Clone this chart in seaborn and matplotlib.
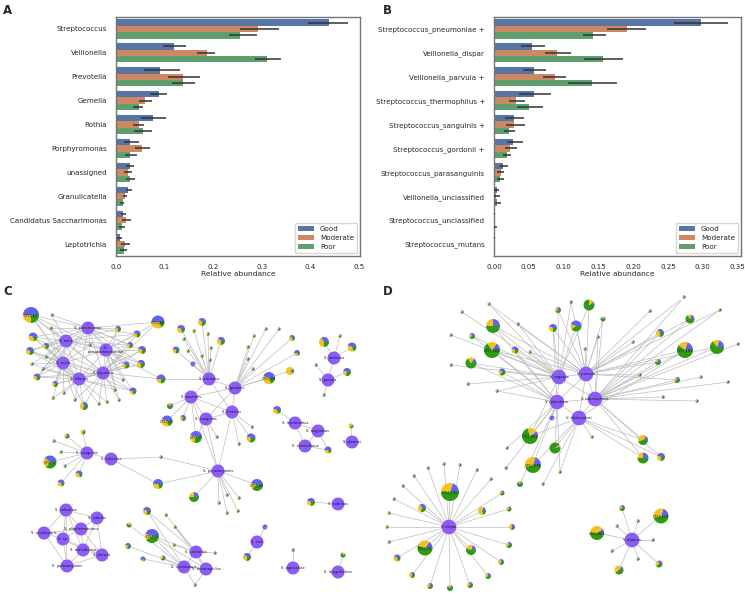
import numpy as np
import pandas as pd
import matplotlib
matplotlib.use("Agg")
import matplotlib.pyplot as plt
import seaborn as sns
from matplotlib.collections import LineCollection

# ---------------- bar chart data ----------------
GROUPS = ["Good", "Moderate", "Poor"]

A_TAXA = ["Streptococcus", "Veillonella", "Prevotella", "Gemella", "Rothia",
          "Porphyromonas", "unassigned", "Granulicatella",
          "Candidatus Saccharimonas", "Leptotrichia"]
A_GOOD = [0.438, 0.120, 0.091, 0.088, 0.076, 0.029, 0.029, 0.025, 0.014, 0.008]
A_GOOD_LO = [0.396, 0.096, 0.058, 0.070, 0.051, 0.017, 0.021, 0.021, 0.010, 0.003]
A_GOOD_HI = [0.477, 0.144, 0.131, 0.104, 0.103, 0.047, 0.038, 0.033, 0.021, 0.012]
A_MOD = [0.293, 0.187, 0.137, 0.060, 0.047, 0.053, 0.024, 0.018, 0.021, 0.019]
A_MOD_LO = [0.255, 0.166, 0.106, 0.047, 0.036, 0.040, 0.016, 0.014, 0.012, 0.011]
A_MOD_HI = [0.336, 0.204, 0.173, 0.074, 0.057, 0.069, 0.032, 0.023, 0.031, 0.029]
A_POOR = [0.255, 0.310, 0.137, 0.047, 0.055, 0.029, 0.029, 0.014, 0.012, 0.016]
A_POOR_LO = [0.232, 0.285, 0.115, 0.036, 0.038, 0.019, 0.021, 0.009, 0.007, 0.009]
A_POOR_HI = [0.290, 0.339, 0.163, 0.055, 0.074, 0.043, 0.039, 0.017, 0.018, 0.023]

B_TAXA = ["Streptococcus_pneumoniae +", "Veillonella_dispar", "Veillonella_parvula +",
          "Streptococcus_thermophilus +", "Streptococcus_sanguinis +",
          "Streptococcus_gordonii +", "Streptococcus_parasanguinis",
          "Veillonella_unclassified", "Streptococcus_unclassified",
          "Streptococcus_mutans"]
B_GOOD = [0.298, 0.055, 0.057, 0.057, 0.029, 0.028, 0.013, 0.004, 0.0004, 0.0008]
B_GOOD_LO = [0.258, 0.039, 0.041, 0.036, 0.016, 0.018, 0.008, 0.0005, 0.0, 0.0]
B_GOOD_HI = [0.336, 0.073, 0.075, 0.082, 0.043, 0.041, 0.020, 0.0077, 0.001, 0.002]
B_MOD = [0.191, 0.091, 0.087, 0.031, 0.029, 0.023, 0.0096, 0.0024, 0.0002, 0.0002]
B_MOD_LO = [0.163, 0.074, 0.071, 0.022, 0.017, 0.016, 0.004, 0.0, 0.0, 0.0]
B_MOD_HI = [0.218, 0.110, 0.104, 0.044, 0.045, 0.033, 0.015, 0.008, 0.0005, 0.0005]
B_POOR = [0.143, 0.157, 0.141, 0.050, 0.022, 0.018, 0.009, 0.005, 0.001, 0.0002]
B_POOR_LO = [0.128, 0.130, 0.107, 0.033, 0.015, 0.013, 0.004, 0.0014, 0.0, 0.0]
B_POOR_HI = [0.161, 0.186, 0.177, 0.070, 0.030, 0.024, 0.014, 0.0105, 0.004, 0.0005]

# ---------------- network data (layout coordinates) ----------------
PIE_COLORS = ["#6262f2", "#f4c21c", "#2f9b12"]
HUB_COLOR = "#8b5cf6"
DOT_FRAC = (0.3, 0.3, 0.4)

C_HUB_NAMES = ["S. pneumoniae", "S. mitis", "S.\npseudopneumoniae", "S. oralis",
               "S. tigurinus", "S. infantis",
               "S. cristatus", "S. gordonii", "S. australis", "S. sinensis",
               "S. sanguinis", "S. parasanguinis",
               "S. lactarius", "S. peroris", "S. intermedius", "S. anginosus",
               "S. constellatus", "S. downei", "S. sobrinus", "S. suis",
               "S. agalactiae", "S. dysgalactiae",
               "S. sanguinis", "S. cristatus",
               "S. salivarius", "S. infantis", "S. vestibularis", "S. oligofermentans",
               "S. sp.", "S. massiliensis", "S. peroris", "S. parasanguinis",
               "S. salivarius", "S. vestibularis", "S. thermophilus"]
C_HUB_X = [88, 66, 106, 63, 103, 79,
           209, 235, 191, 232, 206, 218,
           334, 328, 295, 318, 305, 352, 338, 257, 293, 338,
           87, 111,
           66, 97, 44, 81, 63, 83, 102, 67,
           196, 184, 206]
C_HUB_Y = [328, 341, 350, 363, 373, 379,
           379, 388, 397, 412, 419, 471,
           358, 380, 423, 431, 446, 442, 504, 542, 568, 572,
           453, 459,
           510, 518, 533, 529, 539, 550, 555, 566,
           552, 567, 569]
C_HUB_EDGES = [(0, 1), (0, 2), (0, 3), (0, 4), (0, 5), (1, 2), (1, 3), (1, 4), (1, 5),
               (2, 3), (2, 4), (2, 5), (3, 4), (3, 5), (4, 5),
               (6, 7), (6, 8), (7, 8), (7, 9), (8, 9), (8, 10), (9, 10), (7, 10), (6, 9),
               (8, 11), (9, 11), (10, 11),
               (12, 13), (14, 15), (14, 16), (15, 16), (22, 23),
               (24, 25), (24, 26), (24, 27), (24, 28), (24, 31), (25, 27), (25, 29),
               (25, 30), (26, 28), (26, 31), (26, 27), (27, 28), (27, 29), (27, 30),
               (28, 29), (28, 31), (29, 30), (29, 31), (30, 31), (24, 29), (28, 30),
               (32, 33), (32, 34), (33, 34)]
# (x, y, radius, blue, yellow, green, linked hubs, label)
C_PIES = [
    (31, 315, 8, .50, .25, .25, [0, 1, 2, 3, 4, 5], "OTU_12"),
    (158, 322, 6.5, .50, .35, .15, [0, 2, 4], "OTU_20"),
    (33, 337, 4.5, .45, .35, .20, [0, 1, 3, 4, 5], ""),
    (30, 351, 4, .45, .30, .25, [0, 1, 3, 4, 5], ""),
    (37, 377, 3.5, .45, .30, .25, [0, 1, 3, 4, 5], ""),
    (55, 384, 3, .40, .30, .30, [1, 3, 4, 5], ""),
    (84, 406, 4, .30, .40, .30, [3, 4, 5], ""),
    (133, 391, 3.5, .50, .25, .25, [2, 3, 4, 5], ""),
    (126, 365, 3.5, .40, .30, .30, [0, 1, 2, 4, 5], ""),
    (142, 350, 4, .45, .30, .25, [0, 2, 4, 5], ""),
    (141, 364, 4, .40, .35, .25, [0, 2, 4, 5], ""),
    (137, 334, 3.5, .45, .30, .25, [0, 1, 2, 4], ""),
    (130, 345, 3, .40, .30, .30, [0, 1, 2, 4], ""),
    (118, 329, 3, .40, .35, .25, [0, 1, 2, 4], ""),
    (161, 379, 4.5, .50, .25, .25, [2, 4, 6], ""),
    (46, 346, 3, .40, .30, .30, [0, 1, 3, 5], ""),
    (181, 329, 4, .45, .35, .20, [6], ""),
    (202, 322, 4, .40, .35, .25, [6], ""),
    (221, 341, 4, .40, .35, .25, [6], ""),
    (176, 350, 3.5, .45, .30, .25, [6], ""),
    (193, 364, 2.5, .90, .05, .05, [6], ""),
    (292, 338, 3, .40, .40, .20, [7], ""),
    (297, 353, 3, .50, .30, .20, [7], ""),
    (290, 371, 4, .10, .80, .10, [7], ""),
    (269, 378, 6, .45, .35, .20, [7], "OTU_84"),
    (170, 406, 3, .20, .20, .60, [8], ""),
    (167, 421, 5.5, .45, .35, .20, [8], "OTU_31"),
    (183, 418, 3, .40, .30, .30, [8], ""),
    (196, 437, 6, .45, .25, .30, [8, 10], "OTU_7"),
    (251, 438, 4.5, .45, .25, .30, [9], ""),
    (257, 485, 6, .45, .15, .40, [11], "OTU_44"),
    (194, 497, 5, .25, .25, .50, [11], ""),
    (158, 484, 5, .50, .30, .20, [23, 11], ""),
    (324, 342, 5, .35, .40, .25, [12], ""),
    (352, 347, 4.5, .45, .35, .20, [12], ""),
    (347, 372, 4, .45, .25, .30, [13], ""),
    (277, 410, 4, .45, .35, .20, [14], ""),
    (328, 450, 3.5, .50, .30, .20, [15, 16], ""),
    (351, 426, 2.5, .10, .60, .30, [17], ""),
    (311, 502, 4, .45, .30, .25, [18], ""),
    (265, 527, 2.5, .90, .05, .05, [19], ""),
    (247, 557, 4, .40, .35, .25, [19], ""),
    (343, 555, 2.5, .10, .20, .70, [21], ""),
    (67, 436, 2.5, .30, .30, .40, [22], ""),
    (83, 432, 2.5, .20, .50, .30, [22], ""),
    (50, 462, 6.5, .40, .25, .35, [22], "OTU_2"),
    (79, 474, 3.5, .45, .35, .20, [22], ""),
    (61, 483, 3.5, .45, .35, .20, [22], ""),
    (147, 511, 4, .45, .30, .25, [32, 33], ""),
    (129, 525, 2.5, .10, .30, .60, [33], ""),
    (152, 536, 7, .45, .15, .40, [32, 33, 34], "OTU_3"),
    (128, 546, 3, .45, .25, .30, [33], ""),
    (143, 559, 2.5, .60, .20, .20, [33], ""),
    (163, 558, 2.5, .30, .30, .40, [33], ""),
]
# (x, y, linked hubs) of the smallest nodes
C_DOTS = [
    (32, 364, [1, 3, 5]), (43, 369, [1, 3, 5]), (53, 398, [3, 5]), (64, 393, [3, 5]),
    (75, 400, [3, 5, 4]), (99, 404, [4, 5]), (107, 402, [4, 5]), (119, 400, [4, 2]),
    (123, 380, [2, 4]), (52, 315, [1, 0]), (90, 345, [0, 1, 2, 3]), (51, 328, [0, 1, 3]),
    (46, 357, [1, 3, 5]), (115, 390, [4, 2, 5]),
    (194, 331, [6]), (208, 334, [6]), (211, 348, [6]), (210, 360, [6]), (184, 339, [6]),
    (188, 351, [6]), (202, 356, [6]),
    (254, 336, [7]), (266, 329, [7]), (279, 329, [7]), (248, 347, [7]), (248, 359, [7]),
    (253, 369, [7]),
    (239, 444, [9]), (217, 437, [10]), (252, 427, [9]),
    (227, 495, [11]), (239, 498, [11]), (219, 503, [11]), (227, 513, [11]), (238, 511, [11]),
    (161, 457, [23, 11]),
    (340, 336, [12]), (316, 365, [13]), (324, 395, [13]), (293, 550, [20]),
    (54, 441, [22]), (61, 452, [22]), (65, 466, [22]),
    (166, 515, [32]), (175, 527, [32, 34]), (174, 545, [32]), (215, 553, [32]),
    (195, 585, [33, 34]),
]

D_HUB_NAMES = ["V. rogosae", "V. parvula", "V. rodentium", "V. tobetsuensis",
               "V. denticariosi", "V. dispar", "V. atypica"]
D_HUB_X = [559, 586, 557, 595, 579, 449, 632]
D_HUB_Y = [377, 374, 402, 399, 418, 527, 540]
D_HUB_EDGES = [(0, 1), (0, 2), (1, 3), (2, 4), (3, 4), (1, 2), (0, 3), (2, 3), (1, 4)]
D_PIES = [
    (493, 326, 7, .25, .25, .50, [0, 1, 2], ""),
    (472, 336, 3, .35, .25, .40, [0, 2], ""),
    (492, 350, 8, .15, .20, .65, [0, 1, 2], "OTU_169"),
    (515, 350, 3.5, .45, .30, .25, [0, 2], ""),
    (471, 363, 5.5, .15, .20, .65, [0, 2], ""),
    (502, 372, 3.5, .40, .25, .35, [0, 2], ""),
    (558, 310, 3, .30, .30, .40, [0, 1], ""),
    (589, 305, 5.5, .10, .15, .75, [1, 0], ""),
    (603, 319, 2.5, .20, .20, .60, [1, 3], ""),
    (553, 328, 4, .45, .30, .25, [0, 1, 2], ""),
    (576, 326, 5.5, .45, .15, .40, [0, 1], ""),
    (690, 319, 4.5, .20, .15, .65, [1, 3], ""),
    (660, 333, 4, .35, .40, .25, [1, 3], ""),
    (685, 350, 8, .20, .20, .60, [1, 3, 4], "OTU_160"),
    (717, 347, 7, .20, .15, .65, [1, 3], ""),
    (658, 362, 3, .25, .25, .50, [1, 3], ""),
    (677, 380, 3, .30, .30, .40, [3, 1], ""),
    (552, 418, 2.5, .90, .05, .05, [2], ""),
    (530, 436, 8, .10, .20, .70, [2, 4, 0], "OTU_433"),
    (555, 448, 5.5, .05, .05, .90, [2, 4], ""),
    (643, 440, 5, .15, .40, .45, [3, 4], ""),
    (643, 458, 5.5, .25, .25, .50, [3, 4], ""),
    (661, 457, 4, .45, .30, .25, [3, 4], ""),
    (533, 465, 8, .20, .35, .45, [2, 4], "OTU_278"),
    (520, 484, 3, .20, .20, .60, [2], ""),
    (450, 492, 9, .20, .30, .50, [5], "OTU_105"),
    (425, 548, 7.5, .15, .30, .55, [5], "OTU_75"),
    (422, 508, 4, .35, .35, .30, [5], ""),
    (482, 511, 4, .20, .60, .20, [5], ""),
    (471, 550, 5, .20, .25, .55, [5], ""),
    (397, 558, 3.5, .40, .40, .20, [5], ""),
    (412, 575, 3, .30, .40, .30, [5], ""),
    (430, 586, 3, .30, .30, .40, [5], ""),
    (450, 588, 3, .20, .20, .60, [5], ""),
    (470, 585, 3, .30, .30, .40, [5], ""),
    (488, 576, 3, .30, .30, .40, [5], ""),
    (501, 562, 3, .30, .40, .30, [5], ""),
    (509, 545, 3, .30, .30, .40, [5], ""),
    (512, 527, 3, .30, .40, .30, [5], ""),
    (509, 509, 2.5, .30, .30, .40, [5], ""),
    (502, 493, 2.5, .30, .30, .40, [5], ""),
    (661, 516, 7.5, .20, .35, .45, [6], "OTU_172"),
    (597, 533, 7, .10, .40, .50, [6], "OTU_802"),
    (622, 508, 3, .30, .30, .40, [6], ""),
    (659, 564, 3.5, .30, .30, .40, [6], ""),
    (619, 570, 4.5, .15, .45, .40, [6], ""),
]
D_DOTS = [
    (489, 304, [0, 1]), (462, 312, [0]), (518, 324, [0, 1]), (451, 335, [0]),
    (530, 352, [0, 1]), (451, 365, [0]), (468, 384, [0]), (497, 391, [0, 2]),
    (571, 302, [0, 1]), (585, 349, [1]), (598, 337, [1, 3]), (684, 297, [1, 3]),
    (720, 310, [1, 3]), (650, 311, [1]), (633, 342, [1]), (738, 344, [3]),
    (701, 377, [3]), (728, 382, [3]), (640, 375, [1, 3]), (663, 397, [3]),
    (697, 401, [3]), (592, 437, [4]), (507, 448, [2]), (506, 468, [2]),
    (560, 472, [4, 2]), (543, 484, [4]),
    (491, 479, [5]), (477, 470, [5]), (460, 465, [5]), (444, 464, [5]), (428, 468, [5]),
    (414, 476, [5]), (403, 486, [5]), (394, 499, [5]), (389, 513, [5]), (387, 527, [5]),
    (389, 542, [5]),
    (638, 521, [6]), (617, 526, [6]), (653, 540, [6]), (612, 551, [6]), (638, 559, [6]),
]

# ---------------- figure ----------------
sns.set_style("white")
plt.rcParams["font.family"] = ["DejaVu Sans"]
fig = plt.figure(figsize=(7.45, 5.94), dpi=100)

FS_TICK = 5.15
FS_LAB = 5.4


def bar_panel(ax, taxa, vals, los, his, xmax, xticks, fmt):
    rows = []
    for g, v in zip(GROUPS, vals):
        for t, x in zip(taxa, v):
            rows.append({"taxon": t, "group": g, "value": x})
    df = pd.DataFrame(rows)
    sns.barplot(data=df, y="taxon", x="value", hue="group", order=taxa,
                hue_order=GROUPS, palette="deep", errorbar=None, ax=ax,
                orient="h", width=0.8, linewidth=0, edgecolor="none")
    w = 0.8 / 3
    for k, (lo, hi) in enumerate(zip(los, his)):
        pos = np.arange(len(taxa)) + (k - 1) * w
        ax.hlines(pos, lo, hi, color=".2", lw=1.1, zorder=4)
    ax.set_xlim(0, xmax)
    ax.set_ylim(len(taxa) - 0.5, -0.5)
    ax.set_xticks(xticks)
    ax.set_xticklabels([fmt.format(t) for t in xticks], fontsize=FS_TICK)
    ax.tick_params(axis="y", labelsize=FS_TICK, pad=3)
    ax.tick_params(axis="x", pad=2)
    ax.set_ylabel("")
    ax.set_xlabel("Relative abundance", fontsize=FS_LAB, labelpad=1)
    for s in ax.spines.values():
        s.set_color("0.45")
        s.set_linewidth(1.0)
    h, l = ax.get_legend_handles_labels()
    ax.legend(h, l, loc="lower right", fontsize=FS_TICK, frameon=True,
              handlelength=2.2, borderpad=0.45, labelspacing=0.4,
              borderaxespad=0.4)


axA = fig.add_axes([116 / 745, 1 - 256 / 594, 244 / 745, 239 / 594])
bar_panel(axA, A_TAXA, [A_GOOD, A_MOD, A_POOR], [A_GOOD_LO, A_MOD_LO, A_POOR_LO],
          [A_GOOD_HI, A_MOD_HI, A_POOR_HI], 0.502, [0, .1, .2, .3, .4, .5], "{:.1f}")
axB = fig.add_axes([494 / 745, 1 - 256 / 594, 247 / 745, 239 / 594])
bar_panel(axB, B_TAXA, [B_GOOD, B_MOD, B_POOR], [B_GOOD_LO, B_MOD_LO, B_POOR_LO],
          [B_GOOD_HI, B_MOD_HI, B_POOR_HI], 0.355,
          [0, .05, .1, .15, .2, .25, .3, .35], "{:.2f}")


def network(ax, names, hx, hy, hr, hedges, pies, dots, x0, x1, y0, y1):
    segs = [((hx[a], hy[a]), (hx[b], hy[b])) for a, b in hedges]
    for p in pies:
        for h in p[6]:
            segs.append(((p[0], p[1]), (hx[h], hy[h])))
    for d in dots:
        for h in d[2]:
            segs.append(((d[0], d[1]), (hx[h], hy[h])))
    ax.add_collection(LineCollection(segs, colors="#bdbdbd", linewidths=0.5, zorder=0.5))
    for d in dots:
        ax.pie(DOT_FRAC, colors=PIE_COLORS, center=(d[0], d[1]), radius=1.7,
               startangle=0, counterclock=False, frame=True,
               wedgeprops={"linewidth": 0, "zorder": 2})
    for p in pies:
        ax.pie(p[3:6], colors=PIE_COLORS, center=(p[0], p[1]), radius=p[2],
               startangle=0, counterclock=False, frame=True,
               wedgeprops={"linewidth": 0, "zorder": 2})
        if p[7]:
            ax.text(p[0], p[1], p[7], fontsize=2.6, ha="center", va="center",
                    color="0.1", zorder=5)
    for n, x, y, r in zip(names, hx, hy, hr):
        ax.pie([1], colors=[HUB_COLOR], center=(x, y), radius=r, frame=True,
               wedgeprops={"linewidth": 0, "zorder": 3})
        ax.text(x, y, n, fontsize=2.6, ha="center", va="center", color="0.1",
                zorder=5, linespacing=0.9)
    ax.set_xlim(x0, x1)
    ax.set_ylim(y1, y0)
    ax.set_aspect("equal")
    ax.axis("off")


axC = fig.add_axes([0, 0, 372 / 745, 294 / 594])
network(axC, C_HUB_NAMES, C_HUB_X, C_HUB_Y, [6.5] * len(C_HUB_X), C_HUB_EDGES,
        C_PIES, C_DOTS, 0, 372, 300, 594)
axD = fig.add_axes([375 / 745, 0, 370 / 745, 294 / 594])
network(axD, D_HUB_NAMES, D_HUB_X, D_HUB_Y, [7.3] * len(D_HUB_X), D_HUB_EDGES,
        D_PIES, D_DOTS, 375, 745, 300, 594)

for lab, x, y in [("A", 3, 4), ("B", 383, 4), ("C", 3, 285), ("D", 383, 285)]:
    fig.text(x / 745, 1 - y / 594, lab, fontsize=8.5, fontweight="bold",
             ha="left", va="top")

fig.savefig("out.png", dpi=100)
